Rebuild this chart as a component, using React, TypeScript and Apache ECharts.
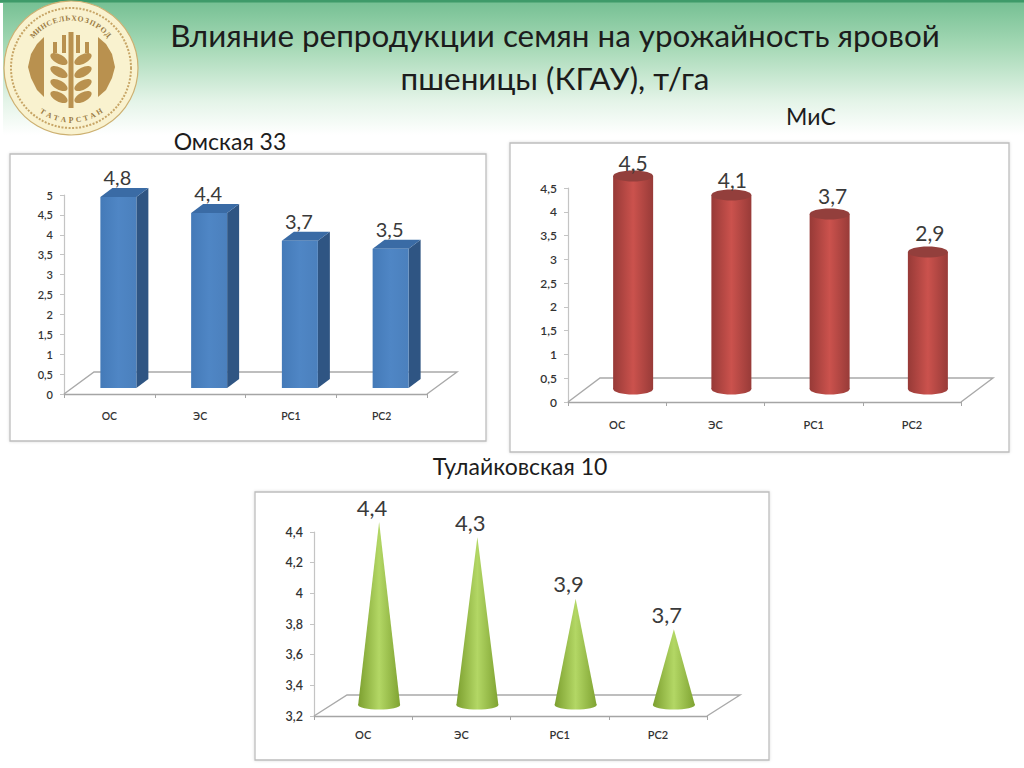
import React, { useEffect, useRef } from "react";
import * as echarts from "echarts";

const categories = ["ОС", "ЭС", "РС1", "РС2"];
const omskayaValues = [4.8, 4.4, 3.7, 3.5];
const misValues = [4.5, 4.1, 3.7, 2.9];
const tulaikovskayaValues = [4.4, 4.3, 3.9, 3.7];

const titleLines = ["Влияние репродукции семян на урожайность яровой", "пшеницы (КГАУ), т/га"];
const panelTitles = ["Омская 33", "МиС", "Тулайковская 10"];

const FONT = "Lato, 'Noto Sans', sans-serif";
const comma = (v: number) => String(v).replace(".", ",");
const hGrad = (a: string, b: string, c: string) => ({
  type: "linear", x: 0, y: 0, x2: 1, y2: 0,
  colorStops: [{ offset: 0, color: a }, { offset: 0.5, color: b }, { offset: 1, color: c }],
});

function floorSeries(axisIndex: number, dx: number, dy: number) {
  return {
    type: "custom", xAxisIndex: axisIndex, yAxisIndex: axisIndex, silent: true, clip: false, z: 1,
    data: [[0, 0]],
    renderItem: (params: any) => {
      const c = params.coordSys;
      const y0 = c.y + c.height;
      return {
        type: "polyline",
        shape: { points: [[c.x, y0], [c.x + dx, y0 + dy], [c.x + c.width + dx, y0 + dy], [c.x + c.width, y0]] },
        style: { fill: "none", stroke: "#a9a9a9", lineWidth: 1.4 },
      };
    },
  };
}

function labelText(x: number, y: number, v: number, size: number) {
  return {
    type: "text", z2: 10,
    style: { x, y, text: comma(v), fill: "#3a3a3a", font: `${size}px ${FONT}`, align: "center", verticalAlign: "middle" },
  };
}

function boxSeries(values: number[], axisIndex: number, min: number) {
  return {
    type: "custom", xAxisIndex: axisIndex, yAxisIndex: axisIndex, clip: false, z: 3,
    encode: { x: 0, y: 1 },
    data: values.map((v, i) => [i, v]),
    renderItem: (_: any, api: any) => {
      const [cx, top0] = api.coord([api.value(0), api.value(1)]);
      const [, base0] = api.coord([api.value(0), min]);
      const x = cx + 9 - 18, w = 36, top = top0 - 6, base = base0 - 6, dx = 12, dy = -9;
      return {
        type: "group",
        children: [
          { type: "polygon", shape: { points: [[x + w, top], [x + w + dx, top + dy], [x + w + dx, base + dy], [x + w, base]] }, style: { fill: "#2f5583" } },
          { type: "polygon", shape: { points: [[x, top], [x + dx, top + dy], [x + w + dx, top + dy], [x + w, top]] }, style: { fill: "#3a6ba5" } },
          { type: "rect", shape: { x, y: top, width: w, height: base - top }, style: { fill: hGrad("#447ab8", "#4f86c5", "#4b80bd") } },
          labelText(cx + 8, top - 20, api.value(1), 20),
        ],
      };
    },
  };
}

const cylinderLabelLift = [14, 16, 19, 20];
const cylinderLabelShift = [0, 1, 3, 2];

function cylinderSeries(values: number[], axisIndex: number, min: number) {
  return {
    type: "custom", xAxisIndex: axisIndex, yAxisIndex: axisIndex, clip: false, z: 3,
    encode: { x: 0, y: 1 },
    data: values.map((v, i) => [i, v]),
    renderItem: (params: any, api: any) => {
      const [cx0, top0] = api.coord([api.value(0), api.value(1)]);
      const [, base0] = api.coord([api.value(0), min]);
      const cx = cx0 + 16, top = top0 - 12, base = base0 - 13, rx = 20, ry = 5.5;
      const fill = hGrad("#973a37", "#cb524d", "#983b38");
      const i = params.dataIndex;
      return {
        type: "group",
        children: [
          { type: "ellipse", shape: { cx, cy: base, rx, ry }, style: { fill } },
          { type: "rect", shape: { x: cx - rx, y: top, width: rx * 2, height: base - top }, style: { fill } },
          { type: "ellipse", shape: { cx, cy: top, rx, ry }, style: { fill: "#933f3c" } },
          labelText(cx + cylinderLabelShift[i], top - cylinderLabelLift[i], api.value(1), 21),
        ],
      };
    },
  };
}

function coneSeries(values: number[], axisIndex: number, min: number) {
  return {
    type: "custom", xAxisIndex: axisIndex, yAxisIndex: axisIndex, clip: false, z: 3,
    encode: { x: 0, y: 1 },
    data: values.map((v, i) => [i, v]),
    renderItem: (_: any, api: any) => {
      const [cx0, top0] = api.coord([api.value(0), api.value(1)]);
      const [, base0] = api.coord([api.value(0), min]);
      const cx = cx0 + 16, top = top0 - 10, base = base0 - 11, rx = 21, ry = 4.5;
      const fill = hGrad("#7c9f2f", "#b3d765", "#7fa332");
      return {
        type: "group",
        children: [
          { type: "ellipse", shape: { cx, cy: base, rx, ry }, style: { fill } },
          { type: "polygon", shape: { points: [[cx, top], [cx + rx, base], [cx - rx, base]] }, style: { fill } },
          labelText(cx - 7, top - 15, api.value(1), 22),
        ],
      };
    },
  };
}

function panel(x: number, y: number, w: number, h: number) {
  return {
    type: "rect", z: -5, silent: true,
    shape: { x, y, width: w, height: h },
    style: { fill: "#fff", stroke: "#bdbdbd", lineWidth: 1.3, shadowBlur: 3, shadowColor: "rgba(0,0,0,0.15)" },
  };
}

function heading(text: string, x: number, y: number, size: number) {
  return {
    type: "text", z: 5, silent: true,
    style: { x, y, text, fill: "#1c1c1c", font: `${size}px ${FONT}`, align: "center", verticalAlign: "middle" },
  };
}

const LC = 71, LY = 68;
const GOLD = "#b9914f";

function arcText(text: string, radius: number, startDeg: number, endDeg: number, size: number) {
  const chars = Array.from(text);
  return chars.map((ch, i) => {
    const deg = startDeg + ((endDeg - startDeg) * i) / (chars.length - 1);
    const a = (deg * Math.PI) / 180;
    const bottom = Math.cos(a) < 0;
    return {
      type: "text", z: 6, silent: true,
      x: LC + radius * Math.sin(a),
      y: LY - radius * Math.cos(a),
      rotation: bottom ? Math.PI - a : -a,
      style: { x: 0, y: 0, text: ch, fill: "#9a7a42", font: `bold ${size}px 'Liberation Serif', serif`, align: "center", verticalAlign: "middle" },
    };
  });
}

function logo() {
  const grains: any[] = [];
  [60, 73, 86, 98].forEach((y) => {
    [-1, 1].forEach((side) => {
      grains.push({
        type: "ellipse", z: 6, silent: true,
        x: LC + side * 12, y: y - 1,
        rotation: side * 0.5,
        shape: { cx: 0, cy: 0, rx: 9.5, ry: 4.6 },
        style: { fill: GOLD },
      });
    });
  });
  const stalks = [[-18, 42, 11], [-9, 35, 18], [5, 35, 18], [14, 42, 11]].map(([dx, y, h]) => ({
    type: "rect", z: 6, silent: true,
    shape: { x: LC + dx, y, width: 4, height: h },
    style: { fill: GOLD },
  }));
  return [
    { type: "circle", z: 6, silent: true, shape: { cx: LC, cy: LY, r: 67 }, style: { fill: "#f9f2cf", stroke: "#cdb071", lineWidth: 1.2 } },
    { type: "circle", z: 6, silent: true, shape: { cx: LC, cy: LY, r: 60 }, style: { fill: "none", stroke: "#c7a566", lineWidth: 2, lineDash: [2, 1.5] } },
    ...arcText("МИНСЕЛЬХОЗПРОД", 50, -48, 48, 7.5),
    ...arcText("ТАТАРСТАН", 52, 213, 147, 7.5),
    { type: "polygon", z: 6, silent: true, shape: { points: [[44, 37], [44, 97], [37, 90], [31, 78], [28, 67], [31, 54], [37, 44]] }, style: { fill: GOLD } },
    { type: "polygon", z: 6, silent: true, shape: { points: [[98, 37], [98, 97], [106, 90], [112, 78], [115, 67], [112, 54], [106, 44]] }, style: { fill: GOLD } },
    { type: "rect", z: 6, silent: true, shape: { x: LC - 2.5, y: 32, width: 5, height: 76 }, style: { fill: GOLD } },
    ...stalks,
    ...grains,
  ];
}

export default function App() {
  const ref = useRef<HTMLDivElement>(null);
  useEffect(() => {
    document.body.style.margin = "0";
    const chart = echarts.init(ref.current!, undefined, { renderer: "svg" });

    const grids = [
      { left: 64, top: 195, width: 363, height: 199 },
      { left: 568, top: 188, width: 393, height: 214 },
      { left: 314, top: 532, width: 393, height: 184 },
    ];
    const axisColor = "#a5a5a5";
    const catAxis = (gridIndex: number, margin: number, size: number) => ({
      type: "category", gridIndex, data: categories,
      axisLine: { lineStyle: { color: axisColor, width: 1.4 } },
      axisTick: { show: true, length: 4, alignWithLabel: false, lineStyle: { color: axisColor } },
      axisLabel: { margin, fontSize: size, fontWeight: 600, color: "#333", fontFamily: FONT },
      splitLine: { show: false },
    });
    const valAxis = (gridIndex: number, min: number, max: number, interval: number, size: number) => ({
      type: "value", gridIndex, min, max, interval,
      axisLine: { show: true, lineStyle: { color: "#c4c4c4", width: 1.2 } },
      axisTick: { show: true, length: 4, lineStyle: { color: "#c4c4c4" } },
      axisLabel: { margin: 11, fontSize: size, fontWeight: 600, color: "#333", fontFamily: FONT, formatter: (v: number) => comma(Number(v.toFixed(1))) },
      splitLine: { show: false },
    });

    chart.setOption({
      animation: false,
      backgroundColor: "#fff",
      graphic: {
        elements: [
          {
            type: "rect", z: -10, silent: true,
            shape: { x: 0, y: 0, width: 1024, height: 135 },
            style: {
              fill: {
                type: "linear", x: 0, y: 0, x2: 0, y2: 1,
                colorStops: [
                  { offset: 0, color: "#74bf92" },
                  { offset: 0.35, color: "#a6d9b6" },
                  { offset: 0.75, color: "#e4f4e8" },
                  { offset: 1, color: "#ffffff" },
                ],
              },
            },
          },
          { type: "rect", z: -9, silent: true, shape: { x: 0, y: 3, width: 3, height: 132 }, style: { fill: "#ffffff" } },
          { type: "rect", z: -9, silent: true, shape: { x: 0, y: 0, width: 1024, height: 2.5 }, style: { fill: "#3e9a69" } },
          panel(10, 154, 476, 287),
          panel(510, 143, 499, 309),
          panel(255, 492, 514, 268),
          heading(titleLines[0], 555, 35, 31.4),
          heading(titleLines[1], 555, 78, 31.4),
          heading(panelTitles[0], 230, 141, 23),
          heading(panelTitles[1], 811, 116, 23),
          heading(panelTitles[2], 520, 466, 23),
          ...logo(),
        ],
      },
      grid: grids,
      xAxis: [catAxis(0, 16, 10.5), catAxis(1, 17, 11), catAxis(2, 13, 11)],
      yAxis: [valAxis(0, 0, 5, 0.5, 11), valAxis(1, 0, 4.5, 0.5, 12), valAxis(2, 3.2, 4.4, 0.2, 12.5)],
      series: [
        floorSeries(0, 30, -22),
        floorSeries(1, 32, -24),
        floorSeries(2, 33, -21),
        boxSeries(omskayaValues, 0, 0),
        cylinderSeries(misValues, 1, 0),
        coneSeries(tulaikovskayaValues, 2, 3.2),
      ],
    });
    return () => chart.dispose();
  }, []);
  return <div ref={ref} style={{ width: 1024, height: 768 }} />;
}
